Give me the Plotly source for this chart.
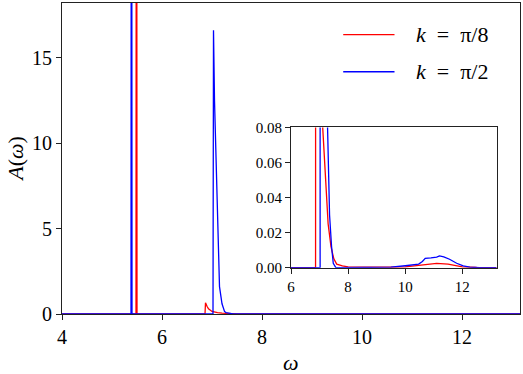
import plotly.graph_objects as go

# spectral function A(omega)
# k = pi/8 (red); the delta spike at 5.49 runs off the top of the axes
omega_red = [4.0, 5.48, 5.49, 5.50, 6.86, 6.87, 6.90, 6.93, 7.00, 7.05, 7.11, 7.20,
             7.30, 7.40, 7.50, 7.60, 7.80, 8.00, 9.00, 9.50, 10.0, 10.5, 10.8, 11.1,
             11.5, 11.8, 12.0, 12.5, 13.2]
a_red = [0, 0, 60, 0, 0, 0.66, 0.45, 0.30, 0.15, 0.11, 0.08, 0.05,
         0.025, 0.012, 0.005, 0.002, 0.001, 0.0005, 0.0002, 0.0003, 0.0005, 0.0015, 0.0022, 0.0025,
         0.002, 0.0012, 0.0005, 0.0001, 0]

# k = pi/2 (blue)
omega_blue = [4.0, 5.38, 5.39, 5.40, 7.02, 7.03, 7.05, 7.09, 7.12, 7.15, 7.20, 7.25,
              7.28, 7.35, 7.42, 7.48, 7.57, 9.0, 9.5, 10.0, 10.47, 10.6, 10.7, 10.9,
              11.1, 11.2, 11.35, 11.55, 11.8, 12.03, 12.26, 12.6, 13.2]
a_blue = [0, 0, 60, 0, 0, 16.6, 12.5, 8.6, 4.5, 1.6, 0.6, 0.15,
          0.08, 0.03, 0.012, 0.0025, 0, 0, 0.0003, 0.0011, 0.002, 0.0035, 0.0053, 0.0056,
          0.006, 0.0067, 0.0062, 0.0048, 0.0025, 0.001, 0.0003, 0, 0]

labels = ["<i>k</i>\u2002=\u2002π/8", "<i>k</i>\u2002=\u2002π/2"]
colors = ["#ff0000", "#0000ff"]

FONT = "Liberation Serif"

fig = go.Figure()
series = [(omega_red, a_red), (omega_blue, a_blue)]
for (w, a), c in zip(series, colors):
    fig.add_trace(go.Scatter(x=w, y=a, mode="lines", line=dict(color=c, width=1.3),
                             showlegend=False, hoverinfo="skip", xaxis="x", yaxis="y"))
for (w, a), c in zip(series, colors):
    fig.add_trace(go.Scatter(x=w, y=a, mode="lines", line=dict(color=c, width=1.3),
                             showlegend=False, hoverinfo="skip", xaxis="x2", yaxis="y2"))

axis_common = dict(showline=True, mirror=True, linecolor="#222", linewidth=1,
                   ticks="outside", tickcolor="#222", ticklen=5, tickwidth=1,
                   showgrid=False, zeroline=False, automargin=False)

fig.update_layout(
    template="none",
    width=523, height=374,
    margin=dict(l=62, r=3, t=3, b=60),
    paper_bgcolor="white", plot_bgcolor="white",
    font=dict(family=FONT, size=20, color="black"),
    xaxis=dict(range=[4, 13.16], tickvals=[4, 6, 8, 10, 12], domain=[0, 1],
               tickfont=dict(family=FONT, size=20), **axis_common),
    yaxis=dict(range=[0, 18.2], tickvals=[0, 5, 10, 15], domain=[0, 1],
               tickfont=dict(family=FONT, size=20), **axis_common),
    xaxis2=dict(range=[6, 13.2], tickvals=[6, 8, 10, 12], domain=[0.5, 0.949],
                anchor="y2", tickfont=dict(family=FONT, size=15), **axis_common),
    yaxis2=dict(range=[0, 0.08], tickvals=[0, 0.02, 0.04, 0.06, 0.08], tickformat=".2f",
                domain=[0.149, 0.600], anchor="x2", tickfont=dict(family=FONT, size=15),
                **axis_common),
)

# axis titles
fig.add_annotation(text="<i>ω</i>", xref="paper", yref="paper", x=0.5, y=-0.155,
                   xanchor="center", yanchor="middle", showarrow=False,
                   font=dict(family=FONT, size=22))
fig.add_annotation(text="<i>A</i>(<i>ω</i>)", xref="paper", yref="paper", x=-0.102, y=0.5,
                   xanchor="center", yanchor="middle", showarrow=False, textangle=-90,
                   font=dict(family=FONT, size=22))

# hand-drawn legend in the upper right
legend_y = [0.898, 0.779]
for lbl, c, ly in zip(labels, colors, legend_y):
    fig.add_shape(type="line", xref="paper", yref="paper", x0=0.614, x1=0.726, y0=ly, y1=ly,
                  line=dict(color=c, width=1.3))
    fig.add_annotation(text=lbl, xref="paper", yref="paper", x=0.768, y=ly,
                       xanchor="left", yanchor="middle", showarrow=False,
                       font=dict(family=FONT, size=22))

fig.write_html("out.html", config={"displayModeBar": False},
               post_script="document.body.style.margin='0';")
